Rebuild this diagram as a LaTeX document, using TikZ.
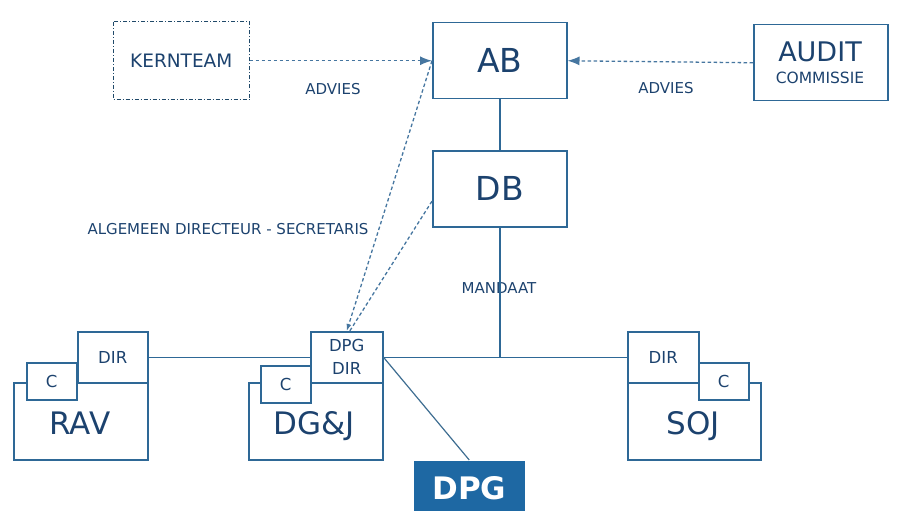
\documentclass[tikz,border=0pt]{standalone}
\usepackage{fontspec}
\setmainfont{DejaVu Sans}
\usetikzlibrary{arrows.meta,calc}
\definecolor{boxline}{RGB}{46,104,150}
\definecolor{txt}{RGB}{28,66,110}
\definecolor{dpgfill}{RGB}{30,104,163}
\definecolor{dashc}{RGB}{70,118,160}
\begin{document}
\begin{tikzpicture}[x=1pt,y=-1pt,
  box/.style={draw=boxline,line width=1.5pt,text=txt,inner sep=0pt,anchor=north west,align=center},
  wbox/.style={box,fill=white},
  conn/.style={draw=boxline,line width=1.5pt},
  dconn/.style={draw=dashc,line width=1.3pt,dash pattern=on 3.5pt off 2.5pt},
  tip/.style={-{Latex[length=12pt,width=9pt]}},
  lbl/.style={text=txt,font=\fontsize{15}{18}\selectfont,inner sep=0pt},
  big/.style={text=txt,font=\fontsize{31}{34}\selectfont,inner sep=0pt,anchor=base},
  small/.style={font=\fontsize{16.5}{19}\selectfont}
]
\useasboundingbox (0,0) rectangle (914,511);
% top boxes
\node[box,draw=none,minimum width=135pt,minimum height=76pt,font=\fontsize{18.5}{20}\selectfont] (kern) at (113,22) {KERNTEAM};
\draw[draw=boxline!70!black,line width=1pt,dash pattern=on 4pt off 2pt on 1pt off 2pt] (kern.north west) rectangle (kern.south east);
\node[box,minimum width=134pt,minimum height=76pt,font=\fontsize{33}{36}\selectfont] (ab) at (432,22) {AB};
\node[box,minimum width=134pt,minimum height=76pt,font=\fontsize{33}{36}\selectfont] (db) at (432,150) {DB};
\node[box,minimum width=134pt,minimum height=76pt] (audit) at (753,24) {};
\node[text=txt,inner sep=0pt,font=\fontsize{27}{30}\selectfont] (audt) at (820,52) {AUDIT};
\node[text=txt,inner sep=0pt,font=\fontsize{15.5}{18}\selectfont] (comm) at (820,78) {COMMISSIE};
% labels
\node[lbl] (adv1) at (333,89) {ADVIES};
\node[lbl] (adv2) at (666,88) {ADVIES};
\node[lbl] (alg) at (228,229) {ALGEMEEN DIRECTEUR - SECRETARIS};
\node[lbl] (mand) at (499,288) {MANDAAT};
% RAV
\node[box,minimum width=134pt,minimum height=77pt] (rav) at (13,382) {};
\node[big] (ravt) at (80,434) {RAV};
\node[box,small,minimum width=70pt,minimum height=51pt] (ravdir) at (77,331) {DIR};
\node[wbox,small,minimum width=50pt,minimum height=37pt] (ravc) at (26,362) {C};
% DG&J
\node[box,minimum width=134pt,minimum height=77pt] (dgj) at (248,382) {};
\node[big] (dgjt) at (314,434) {DG\&J};
\node[box,minimum width=72pt,minimum height=51pt,font=\fontsize{16.5}{23}\selectfont] (dgdir) at (310,331) {DPG\\DIR};
\node[wbox,small,minimum width=50pt,minimum height=37pt] (dgc) at (260,365) {C};
% SOJ
\node[box,minimum width=133pt,minimum height=77pt] (soj) at (627,382) {};
\node[big] (sojt) at (693,434) {SOJ};
\node[box,small,minimum width=71pt,minimum height=51pt] (sojdir) at (627,331) {DIR};
\node[wbox,small,minimum width=50pt,minimum height=37pt] (sojc) at (698,362) {C};
% DPG
\node[box,draw=none,fill=dpgfill,text=white,minimum width=111pt,minimum height=54pt,font=\bfseries\fontsize{31}{34}\selectfont] (dpg) at (413,460) {DPG};
% connectors
\coordinate (junc) at (db.south |- ravdir.east);
\draw[conn] (ab.south) -- (db.north);
\draw[conn] (db.south) -- (junc);
\draw[conn] (ravdir.east) -- (dgdir.west);
\draw[conn] (dgdir.east) -- (sojdir.west);
\draw[draw=boxline!80!gray,line width=1.2pt] (dgdir.east) -- (dpg.north);
\draw[dconn,tip] (kern.east) -- (ab.west);
\draw[dconn,tip] (audit.west) -- (ab.east);
\draw[dconn,-{Latex[length=7pt,width=5pt]}] (ab.west) -- (dgdir.north);
\draw[dconn] ($(db.south west)!0.34!(db.north west)$) -- ([xshift=3pt]dgdir.north);
\end{tikzpicture}
\end{document}
